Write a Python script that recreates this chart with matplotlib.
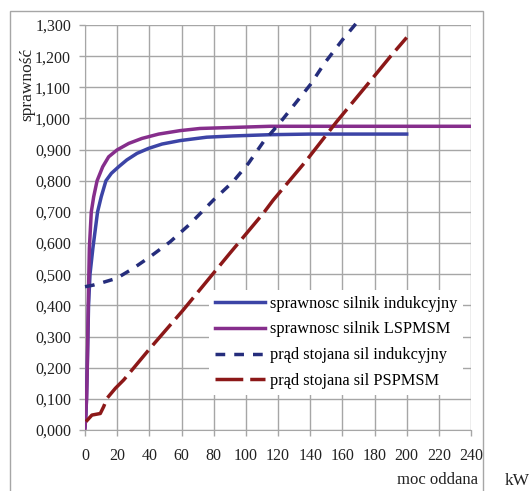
import matplotlib
matplotlib.use("Agg")
import matplotlib.pyplot as plt

plt.rcParams['font.family'] = ['Liberation Serif', 'DejaVu Serif']

# sprawnosc silnik indukcyjny
ind_eff_x = [0, 0.6, 1.4, 2.2, 3.1, 4.9, 7.8, 10.1, 13, 16.4, 20.9, 26, 32.3, 39.5, 47.9, 59, 75.7, 92, 115, 140, 200]
ind_eff_y = [0.01, 0.05, 0.2, 0.4, 0.5, 0.584, 0.7, 0.749, 0.8, 0.824, 0.845, 0.867, 0.888, 0.904, 0.918, 0.929, 0.94, 0.944, 0.948, 0.950, 0.950]

# sprawnosc silnik LSPMSM
ls_eff_x = [0, 1.0, 1.4, 2.0, 2.7, 3.9, 5.4, 7.5, 11, 14.7, 19.9, 27.2, 35.4, 45.8, 59, 71.5, 115, 240]
ls_eff_y = [0.006, 0.1, 0.2, 0.4, 0.584, 0.7, 0.749, 0.8, 0.845, 0.877, 0.899, 0.92, 0.936, 0.95, 0.961, 0.968, 0.975, 0.975]

# prad stojana sil indukcyjny
ind_cur_x = [0, 5, 9.3, 19.7, 30, 40.4, 52.9, 65, 79.8, 92, 101.6, 110.9, 121, 129, 140, 149, 160, 168.7]
ind_cur_y = [0.46, 0.465, 0.471, 0.487, 0.519, 0.556, 0.604, 0.66, 0.738, 0.797, 0.856, 0.925, 0.985, 1.037, 1.108, 1.178, 1.252, 1.306]

# prad stojana sil PSPMSM
pm_cur_x = [0.6, 4.3, 9.5, 11.6, 13.7, 18.9, 24.1, 40.4, 61, 90, 110.9, 117, 137, 156.5, 177, 189.7, 200]
pm_cur_y = [0.027, 0.048, 0.053, 0.075, 0.102, 0.134, 0.161, 0.262, 0.385, 0.567, 0.696, 0.738, 0.861, 0.99, 1.118, 1.198, 1.26]

labels = ['sprawnosc silnik indukcyjny', 'sprawnosc silnik LSPMSM',
          'prąd stojana sil indukcyjny', 'prąd stojana sil PSPMSM']

x_ticks = list(range(0, 241, 20))
y_ticks = [i / 10 for i in range(0, 14)]

fig = plt.figure(figsize=(5.30, 4.91), dpi=100)
ax = fig.add_axes([0.1604, 0.1242, 0.7283, 0.8248])

grid_c = '#a6a6a6'
ax.plot(ind_eff_x, ind_eff_y, color='#3c44a6', lw=2.5, label=labels[0], zorder=3)
ax.plot(ls_eff_x, ls_eff_y, color='#862e8c', lw=2.5, label=labels[1], zorder=3)
ax.plot(ind_cur_x, ind_cur_y, color='#252d7c', lw=2.5, dashes=(2.8, 2.6), label=labels[2],
        zorder=3, clip_on=False)
ax.plot(pm_cur_x, pm_cur_y, color='#8c1818', lw=2.5, dashes=(8, 2), label=labels[3], zorder=3)

ax.set_xlim(0, 240)
ax.set_ylim(0, 1.3)
ax.set_xticks(x_ticks)
ax.set_yticks(y_ticks)
ax.set_yticklabels([f'{v:.3f}'.replace('.', ',') for v in y_ticks])
ax.grid(True, color=grid_c, lw=1.0)
for side in ['top', 'right']:
    ax.spines[side].set_visible(False)
for side in ['left', 'bottom']:
    ax.spines[side].set_color(grid_c)
ax.tick_params(axis='both', colors=grid_c, length=4, width=1, labelcolor='#222222', labelsize=11.5)
ax.tick_params(axis='x', pad=9)
ax.tick_params(axis='y', pad=6)

leg = ax.legend(loc='upper left', bbox_to_anchor=(0.321, 0.346), frameon=True,
                fancybox=False, framealpha=1, edgecolor='none', facecolor='white',
                fontsize=11.8, handlelength=3.1, handletextpad=0.3, labelspacing=0.6,
                borderpad=0.35, borderaxespad=0)

fig.text(27 / 530, 1 - 84 / 491, 'sprawność', rotation=90, ha='center', va='center',
         fontsize=12.5, color='#222222')
fig.text(478 / 530, 1 - 480 / 491, 'moc oddana', ha='right', va='center', fontsize=12,
         color='#222222')
fig.text(505 / 530, 1 - 481 / 491, 'kW', ha='left', va='center', fontsize=12.5,
         color='#222222')

frame = plt.Rectangle((10 / 530, -0.05), (483 - 10) / 530, 1.05 - 11 / 491,
                      transform=fig.transFigure, fill=False, edgecolor=grid_c, lw=1.0)
fig.add_artist(frame)

fig.savefig('out.png', dpi=100)
